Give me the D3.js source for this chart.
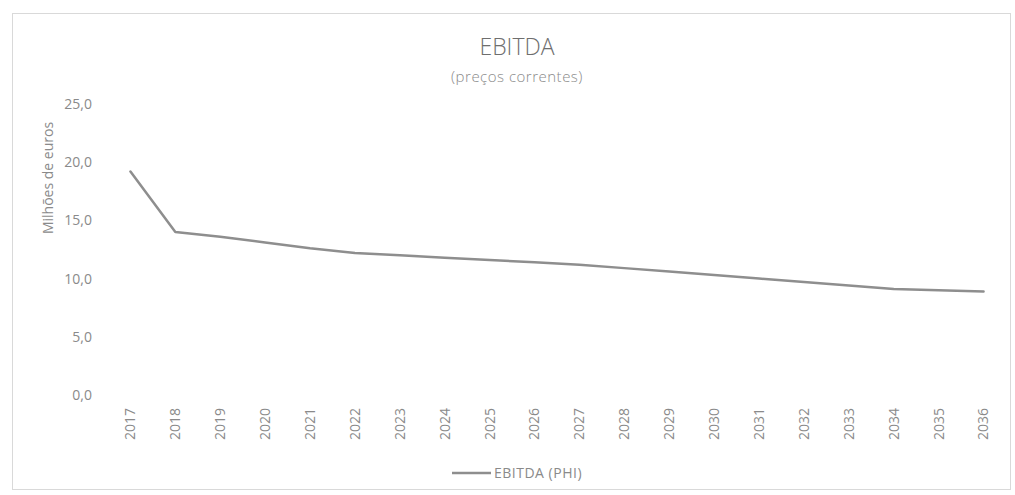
<!DOCTYPE html>
<html>
<head>
<meta charset="utf-8">
<script src="https://cdn.jsdelivr.net/npm/d3@7"></script>
<style>
  html, body { margin: 0; padding: 0; background: #ffffff; }
  svg { display: block; font-family: "Open Sans", "Noto Sans", sans-serif; }
</style>
</head>
<body>
<svg id="chart" width="1015" height="495"></svg>
<script>
const years = ["2017","2018","2019","2020","2021","2022","2023","2024","2025","2026",
               "2027","2028","2029","2030","2031","2032","2033","2034","2035","2036"];
const ebitda = [19.2, 14.0, 13.6, 13.1, 12.6, 12.2, 12.0, 11.8, 11.6, 11.4,
                11.2, 10.9, 10.6, 10.3, 10.0, 9.7, 9.4, 9.1, 9.0, 8.9];
const yTicks = [0, 5, 10, 15, 20, 25];
const titleText = "EBITDA";
const subtitleText = "(preços correntes)";
const yAxisTitle = "Milhões de euros";
const seriesName = "EBITDA (PHI)";

const svg = d3.select("#chart");
const textColor = "#8a8a8a";
const lineColor = "#8e8e8e";

// chart frame
svg.append("rect")
  .attr("x", 12.5).attr("y", 13.5)
  .attr("width", 998).attr("height", 476)
  .attr("fill", "#fff")
  .attr("stroke", "#d9d9d9").attr("stroke-width", 1);

const plot = { left: 108, right: 1006, top: 104, bottom: 395 };

const x = d3.scaleBand().domain(years).range([plot.left, plot.right]).padding(0);
const y = d3.scaleLinear().domain([0, 25]).range([plot.bottom, plot.top]);

// title
svg.append("text")
  .attr("x", 517).attr("y", 55)
  .attr("text-anchor", "middle")
  .attr("font-size", 23).attr("font-weight", 300)
  .attr("fill", "#6e6e6e")
  .text(titleText);
svg.append("text")
  .attr("x", 517).attr("y", 82)
  .attr("text-anchor", "middle")
  .attr("font-size", 15).attr("font-weight", 300)
  .attr("letter-spacing", 0.5)
  .attr("fill", textColor)
  .text(subtitleText);

// y axis (labels only)
const yAxis = d3.axisLeft(y)
  .tickValues(yTicks)
  .tickSize(0)
  .tickPadding(0)
  .tickFormat(d => d3.format(".1f")(d).replace(".", ","));
const gy = svg.append("g")
  .attr("transform", `translate(92,0)`)
  .call(yAxis);
gy.select(".domain").remove();
gy.selectAll("text")
  .attr("font-size", 14)
  .attr("font-family", "'Open Sans', sans-serif")
  .attr("fill", textColor);

// y axis title
svg.append("text")
  .attr("transform", `translate(48,178) rotate(-90)`)
  .attr("dy", "0.35em")
  .attr("text-anchor", "middle")
  .attr("font-size", 14)
  .attr("fill", textColor)
  .text(yAxisTitle);

// x axis (labels only, rotated)
const xAxis = d3.axisBottom(x).tickSize(0).tickPadding(0);
const gx = svg.append("g")
  .attr("transform", `translate(0,${plot.bottom + 8})`)
  .call(xAxis);
gx.select(".domain").remove();
gx.selectAll("text")
  .attr("font-size", 14)
  .attr("font-family", "'Open Sans', sans-serif")
  .attr("fill", textColor)
  .attr("text-anchor", "end")
  .attr("dy", "0.35em")
  .attr("transform", "rotate(-90)")
  .attr("x", -5)
  .attr("y", 0);

// line
const line = d3.line()
  .x((d, i) => x(years[i]) + x.bandwidth() / 2)
  .y(d => y(d));
svg.append("path")
  .datum(ebitda)
  .attr("d", line)
  .attr("fill", "none")
  .attr("stroke", lineColor)
  .attr("stroke-width", 2.5)
  .attr("stroke-linejoin", "round")
  .attr("stroke-linecap", "round");

// legend
const legY = 473;
svg.append("line")
  .attr("x1", 452).attr("x2", 491)
  .attr("y1", legY).attr("y2", legY)
  .attr("stroke", lineColor).attr("stroke-width", 2.5);
svg.append("text")
  .attr("x", 494).attr("y", legY)
  .attr("dy", "0.35em")
  .attr("font-size", 14)
  .attr("letter-spacing", 0.5)
  .attr("fill", textColor)
  .text(seriesName);
</script>
</body>
</html>
